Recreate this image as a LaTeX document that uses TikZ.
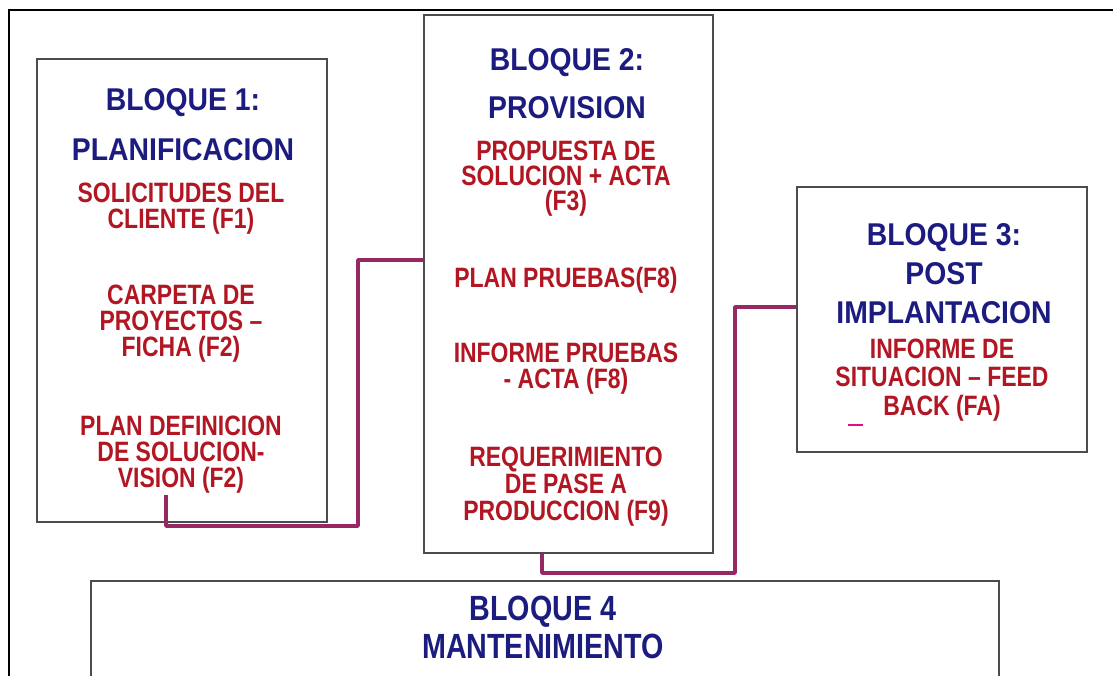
\documentclass[tikz,border=0pt]{standalone}
\usepackage{fontspec}
\setmainfont{Liberation Sans}
\newfontfamily\headfont[FakeStretch=0.9]{Liberation Sans Bold}
\newfontfamily\itemfont[FakeStretch=0.82]{Liberation Sans Bold}
\definecolor{headblue}{RGB}{28,28,128}
\definecolor{itemred}{RGB}{178,22,34}
\definecolor{linkcol}{RGB}{150,40,100}
\tikzset{
  bloque/.style={draw=black!70, line width=1.2pt, fill=white, inner sep=0pt},
  head/.style={anchor=base, align=center, text=headblue,
    font=\headfont\fontsize{31.5}{#1}\selectfont},
  head/.default=50,
  item/.style={anchor=base, align=center, text=itemred,
    font=\itemfont\fontsize{28}{#1}\selectfont},
  item/.default=26,
  link/.style={draw=linkcol, line width=3.5pt, line join=round},
}
\begin{document}
\begin{tikzpicture}[x=1pt,y=-1pt]
  \useasboundingbox (0,0) rectangle (1113,675);
  % frame
  \draw [line width=2pt] (9,700) -- (9,10) -- (1120,10);
  % blocks
  \node [bloque, minimum width=290pt, minimum height=463pt] (b1) at (182,290.5) {};
  \node [bloque, minimum width=289pt, minimum height=538pt] (b2) at (568.5,284) {};
  \node [bloque, minimum width=290pt, minimum height=265pt] (b3) at (942,319.5) {};
  \node [bloque, minimum width=908pt, minimum height=119pt] (b4) at (545,640.5) {};
  % links
  \coordinate (s1) at (166,495);
  \draw [link] (s1) |- (358,526) |- (b2.west |- 0,260);
  \draw [link] (b2.south -| 542,0) |- (735,573) |- (b3.west |- 0,307);
  \draw [draw=magenta!80!purple, line width=1.5pt] (848,425) -- (863,425);
  % bloque 1 (nodes sit on the baseline of their last line)
  \node [head] (t1) at (183,160) {BLOQUE 1:\\PLANIFICACION};
  \node [item] (f1) at (181,228) {SOLICITUDES DEL\\CLIENTE (F1)};
  \node [item] (f2) at (181,356) {CARPETA DE\\PROYECTOS –\\FICHA (F2)};
  \node [item] (f2b) at (181,487) {PLAN DEFINICION\\DE SOLUCION-\\VISION (F2)};
  % bloque 2
  \node [head=48] (t2) at (567,118) {BLOQUE 2:\\PROVISION};
  \node [item=25] (f3) at (566,210) {PROPUESTA DE\\SOLUCION + ACTA\\(F3)};
  \node [item] (f8) at (566,287) {PLAN PRUEBAS(F8)};
  \node [item] (f8b) at (566,388) {INFORME PRUEBAS\\- ACTA (F8)};
  \node [item=27] (f9) at (566,520) {REQUERIMIENTO\\DE PASE A\\PRODUCCION (F9)};
  % bloque 3
  \node [head=39] (t3) at (944,323) {BLOQUE 3:\\POST\\IMPLANTACION};
  \node [item=28.5] (fa) at (942,415) {INFORME DE\\SITUACION – FEED\\BACK (FA)};
  % bloque 4
  \node [head=38, font=\itemfont\fontsize{35}{38}\selectfont] (t4) at (543,658) {BLOQUE 4\\MANTENIMIENTO};
\end{tikzpicture}
\end{document}
